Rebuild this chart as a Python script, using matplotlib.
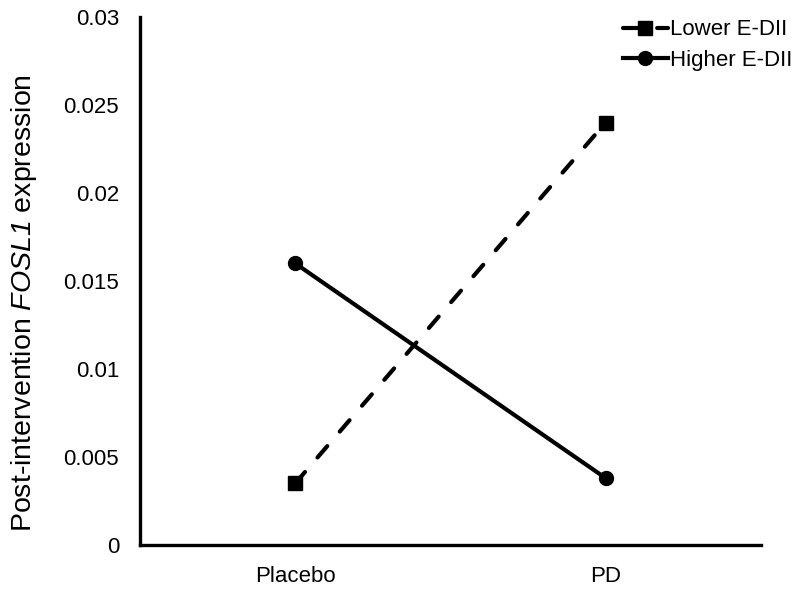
import matplotlib
matplotlib.use('Agg')
import matplotlib.pyplot as plt

plt.rcParams['font.family'] = ['Liberation Sans', 'DejaVu Sans']
plt.rcParams['mathtext.fontset'] = 'custom'
# gene name fully italic (digits included)
plt.rcParams['mathtext.rm'] = 'Liberation Sans:italic'
plt.rcParams['mathtext.it'] = 'Liberation Sans:italic'

groups = ['Placebo', 'PD']
lower_edii = [0.0035, 0.024]
higher_edii = [0.016, 0.0038]
yticks = [0, 0.005, 0.01, 0.015, 0.02, 0.025, 0.03]
ytick_labels = ['0', '0.005', '0.01', '0.015', '0.02', '0.025', '0.03']

fig = plt.figure(figsize=(8, 5.92), dpi=100)
ax = fig.add_axes([0.175, 0.0794, 0.776, 0.892])

xpos = [0.5, 1.5]
ax.plot(xpos, lower_edii, color='black', lw=3, dashes=(3.6, 4.6),
        dash_capstyle='round', marker='s', markersize=10, label='Lower E-DII')
ax.plot(xpos, higher_edii, color='black', lw=3,
        marker='o', markersize=10, label='Higher E-DII')

ax.set_xlim(0, 2)
ax.set_ylim(0, 0.03)
ax.set_xticks(xpos)
ax.set_xticklabels(groups)
ax.set_yticks(yticks)
ax.set_yticklabels(ytick_labels)
ax.tick_params(length=0, labelsize=16)
ax.tick_params(axis='y', pad=15)
ax.tick_params(axis='x', pad=15)

ax.spines['top'].set_visible(False)
ax.spines['right'].set_visible(False)
ax.spines['left'].set_linewidth(2.4)
ax.spines['bottom'].set_linewidth(2.4)

ax.set_ylabel('Post-intervention $\\mathrm{FOSL1}$ expression', fontsize=20.5)
ax.yaxis.set_label_coords(-0.163, 0.458)

ax.legend(loc='upper right', frameon=False, fontsize=16, handlelength=2.0,
          handletextpad=0.1, labelspacing=0.42, borderaxespad=0.0,
          bbox_to_anchor=(1.065, 1.012))

plt.savefig('out.png', dpi=100)
